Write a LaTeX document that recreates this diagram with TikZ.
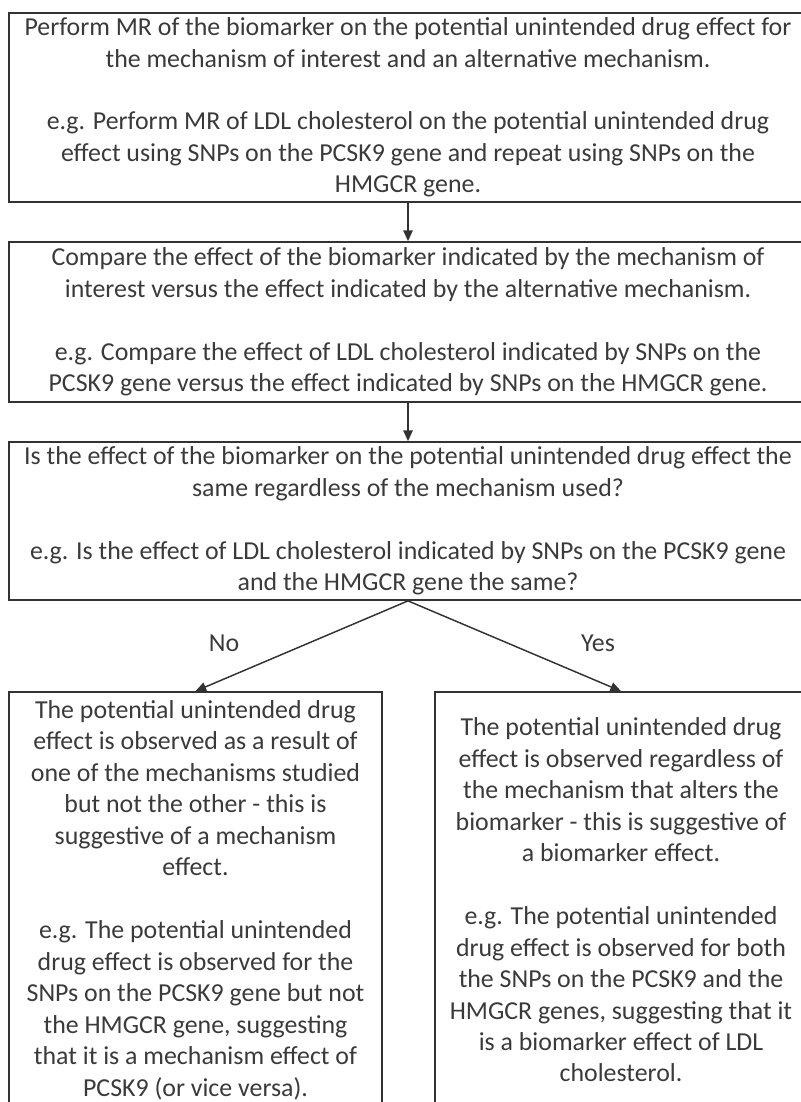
\documentclass[tikz,border=0pt]{standalone}
\usepackage{fontspec}
\setmainfont{Carlito}
\usetikzlibrary{arrows.meta}

\definecolor{inkgray}{RGB}{50,50,50}
\definecolor{textgray}{RGB}{58,58,58}
\tikzset{every picture/.style={line width=0.75pt}}
\tikzset{
  stepbox/.style={draw=inkgray, line width=1.3pt, align=center, inner sep=0pt,
    text=textgray, font=\fontsize{19.4}{23.6}\selectfont},
  flowarrow/.style={draw=inkgray, line width=1.1pt, -{Triangle[length=8pt,width=7pt]}},
  branchlabel/.style={text=textgray, font=\fontsize{19.4}{23.6}\selectfont}
}

\begin{document}
\begin{tikzpicture}[x=0.75pt,y=0.75pt,yscale=-1,xscale=1]
	\useasboundingbox (0,0) rectangle (800,1102);

	% three steps down the middle
	\node [stepbox, minimum width=598.5pt, minimum height=141.75pt] (measure) at (408,107.5) {Perform MR of the biomarker on the potential unintended drug effect for\\the mechanism of interest and an alternative mechanism.\\[23.6pt]e.g. Perform MR of LDL cholesterol on the potential unintended drug\\effect using SNPs on the PCSK9 gene and repeat using SNPs on the\\HMGCR gene.};
	\node [stepbox, minimum width=598.5pt, minimum height=120pt] (compare) at (408,322) {Compare the effect of the biomarker indicated by the mechanism of\\interest versus the effect indicated by the alternative mechanism.\\[23.6pt]e.g. Compare the effect of LDL cholesterol indicated by SNPs on the\\PCSK9 gene versus the effect indicated by SNPs on the HMGCR gene.};
	\node [stepbox, minimum width=598.5pt, minimum height=118.5pt] (question) at (408,521) {Is the effect of the biomarker on the potential unintended drug effect the\\same regardless of the mechanism used?\\[23.6pt]e.g. Is the effect of LDL cholesterol indicated by SNPs on the PCSK9 gene\\and the HMGCR gene the same?};

	% the two outcomes
	\node [stepbox, minimum width=279.75pt, minimum height=312pt] (mechanism) at (195.5,900) {The potential unintended drug\\effect is observed as a result of\\one of the mechanisms studied\\but not the other - this is\\suggestive of a mechanism\\effect.\\[23.6pt]e.g. The potential unintended\\drug effect is observed for the\\SNPs on the PCSK9 gene but not\\the HMGCR gene, suggesting\\that it is a mechanism effect of\\PCSK9 (or vice versa).};
	\node [stepbox, minimum width=279pt, minimum height=312pt] (biomarker) at (621,900) {The potential unintended drug\\effect is observed regardless of\\the mechanism that alters the\\biomarker - this is suggestive of\\a biomarker effect.\\[23.6pt]e.g. The potential unintended\\drug effect is observed for both\\the SNPs on the PCSK9 and the\\HMGCR genes, suggesting that it\\is a biomarker effect of LDL\\cholesterol.};

	\draw [flowarrow] (measure) -- (compare);
	\draw [flowarrow] (compare) -- (question);
	\draw [flowarrow] (question.south) -- (mechanism.north);
	\draw [flowarrow] (question.south) -- (biomarker.north);

	\node [branchlabel] (nolabel) at (224,643) {No};
	\node [branchlabel] (yeslabel) at (598,643) {Yes};

\end{tikzpicture}
\end{document}
